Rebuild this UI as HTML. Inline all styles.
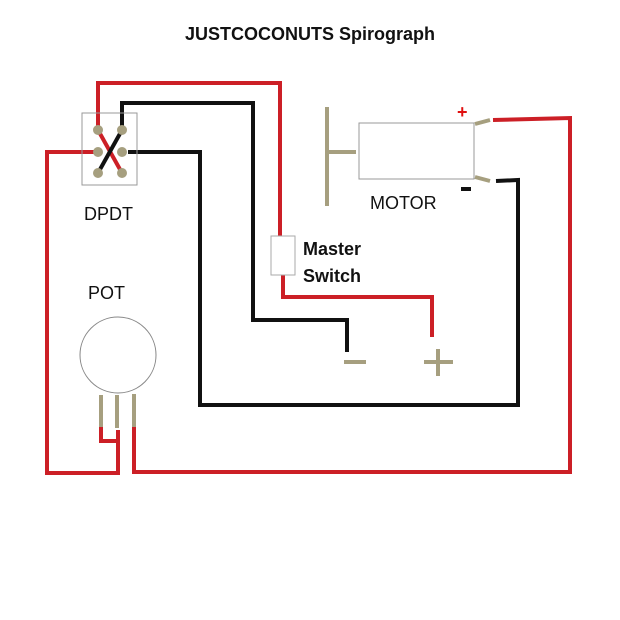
<!DOCTYPE html>
<html><head><style>
body{margin:0;background:#fff}
svg{display:block}
text{font-family:"Liberation Sans",sans-serif}
</style></head><body>
<svg width="620" height="620" viewBox="0 0 620 620" xmlns="http://www.w3.org/2000/svg">
<rect width="620" height="620" fill="#fff"/>
<text x="310" y="40" text-anchor="middle" font-size="18" font-weight="bold" fill="#111">JUSTCOCONUTS Spirograph</text>
<g fill="none" stroke-width="4" stroke-linejoin="miter">
<!-- red wires -->
<polyline stroke="#cc1f26" points="98,130 98,83 280,83 280,237"/>
<polyline stroke="#cc1f26" points="283,275 283,297 432,297 432,337"/>
<polyline stroke="#cc1f26" points="96,152 47,152 47,473 118,473 118,430"/>
<polyline stroke="#cc1f26" points="101,427 101,441 117,441"/>
<polyline stroke="#cc1f26" points="134,427 134,472 570,472 570,118 493,120"/>
<!-- black wires -->
<polyline stroke="#111" points="122,130 122,103 253,103 253,320 347,320 347,352"/>
<polyline stroke="#111" points="128,152 200,152 200,405 518,405 518,180 496,181"/>
<!-- X in switch -->
<line stroke="#cc1f26" x1="98" y1="130" x2="122" y2="173"/>
<line stroke="#111" x1="122" y1="130" x2="98" y2="173"/>
</g>
<rect x="82" y="113" width="55" height="72" fill="none" stroke="#999" stroke-width="1"/>
<g fill="#a69f7f">
<circle cx="98" cy="130" r="5"/><circle cx="122" cy="130" r="5"/>
<circle cx="98" cy="152" r="5"/><circle cx="122" cy="152" r="5"/>
<circle cx="98" cy="173" r="5"/><circle cx="122" cy="173" r="5"/>
</g>
<text x="84" y="220" font-size="18" fill="#111">DPDT</text>
<text x="88" y="299" font-size="18" fill="#111">POT</text>
<!-- pot -->
<circle cx="118" cy="355" r="38" fill="#fff" stroke="#888" stroke-width="1"/>
<g stroke="#a69f7f" stroke-width="4">
<line x1="101" y1="395" x2="101" y2="427"/>
<line x1="117" y1="395" x2="117" y2="428"/>
<line x1="134" y1="394" x2="134" y2="427"/>
</g>
<!-- master switch -->
<rect x="271" y="236" width="24" height="39" fill="#fff" stroke="#aaa" stroke-width="1"/>
<text x="303" y="255" font-size="18" font-weight="bold" fill="#111">Master</text>
<text x="303" y="282" font-size="18" font-weight="bold" fill="#111">Switch</text>
<!-- battery terminals -->
<g stroke="#a69f7f" stroke-width="4">
<line x1="344" y1="362" x2="366" y2="362"/>
<line x1="424" y1="362" x2="453" y2="362"/>
<line x1="438" y1="349" x2="438" y2="376"/>
</g>
<!-- motor -->
<rect x="359" y="123" width="115" height="56" fill="#fff" stroke="#999" stroke-width="1"/>
<g stroke="#a69f7f" stroke-width="4">
<line x1="327" y1="107" x2="327" y2="206"/>
<line x1="327" y1="152" x2="356" y2="152"/>
<line x1="475" y1="124" x2="490" y2="120"/>
<line x1="475" y1="177" x2="490" y2="181"/>
</g>
<text x="457" y="118" font-size="18" font-weight="bold" fill="#e01010">+</text>
<rect x="461" y="187" width="10" height="4" fill="#111"/>
<text x="370" y="209" font-size="18" fill="#111">MOTOR</text>
</svg>
</body></html>
